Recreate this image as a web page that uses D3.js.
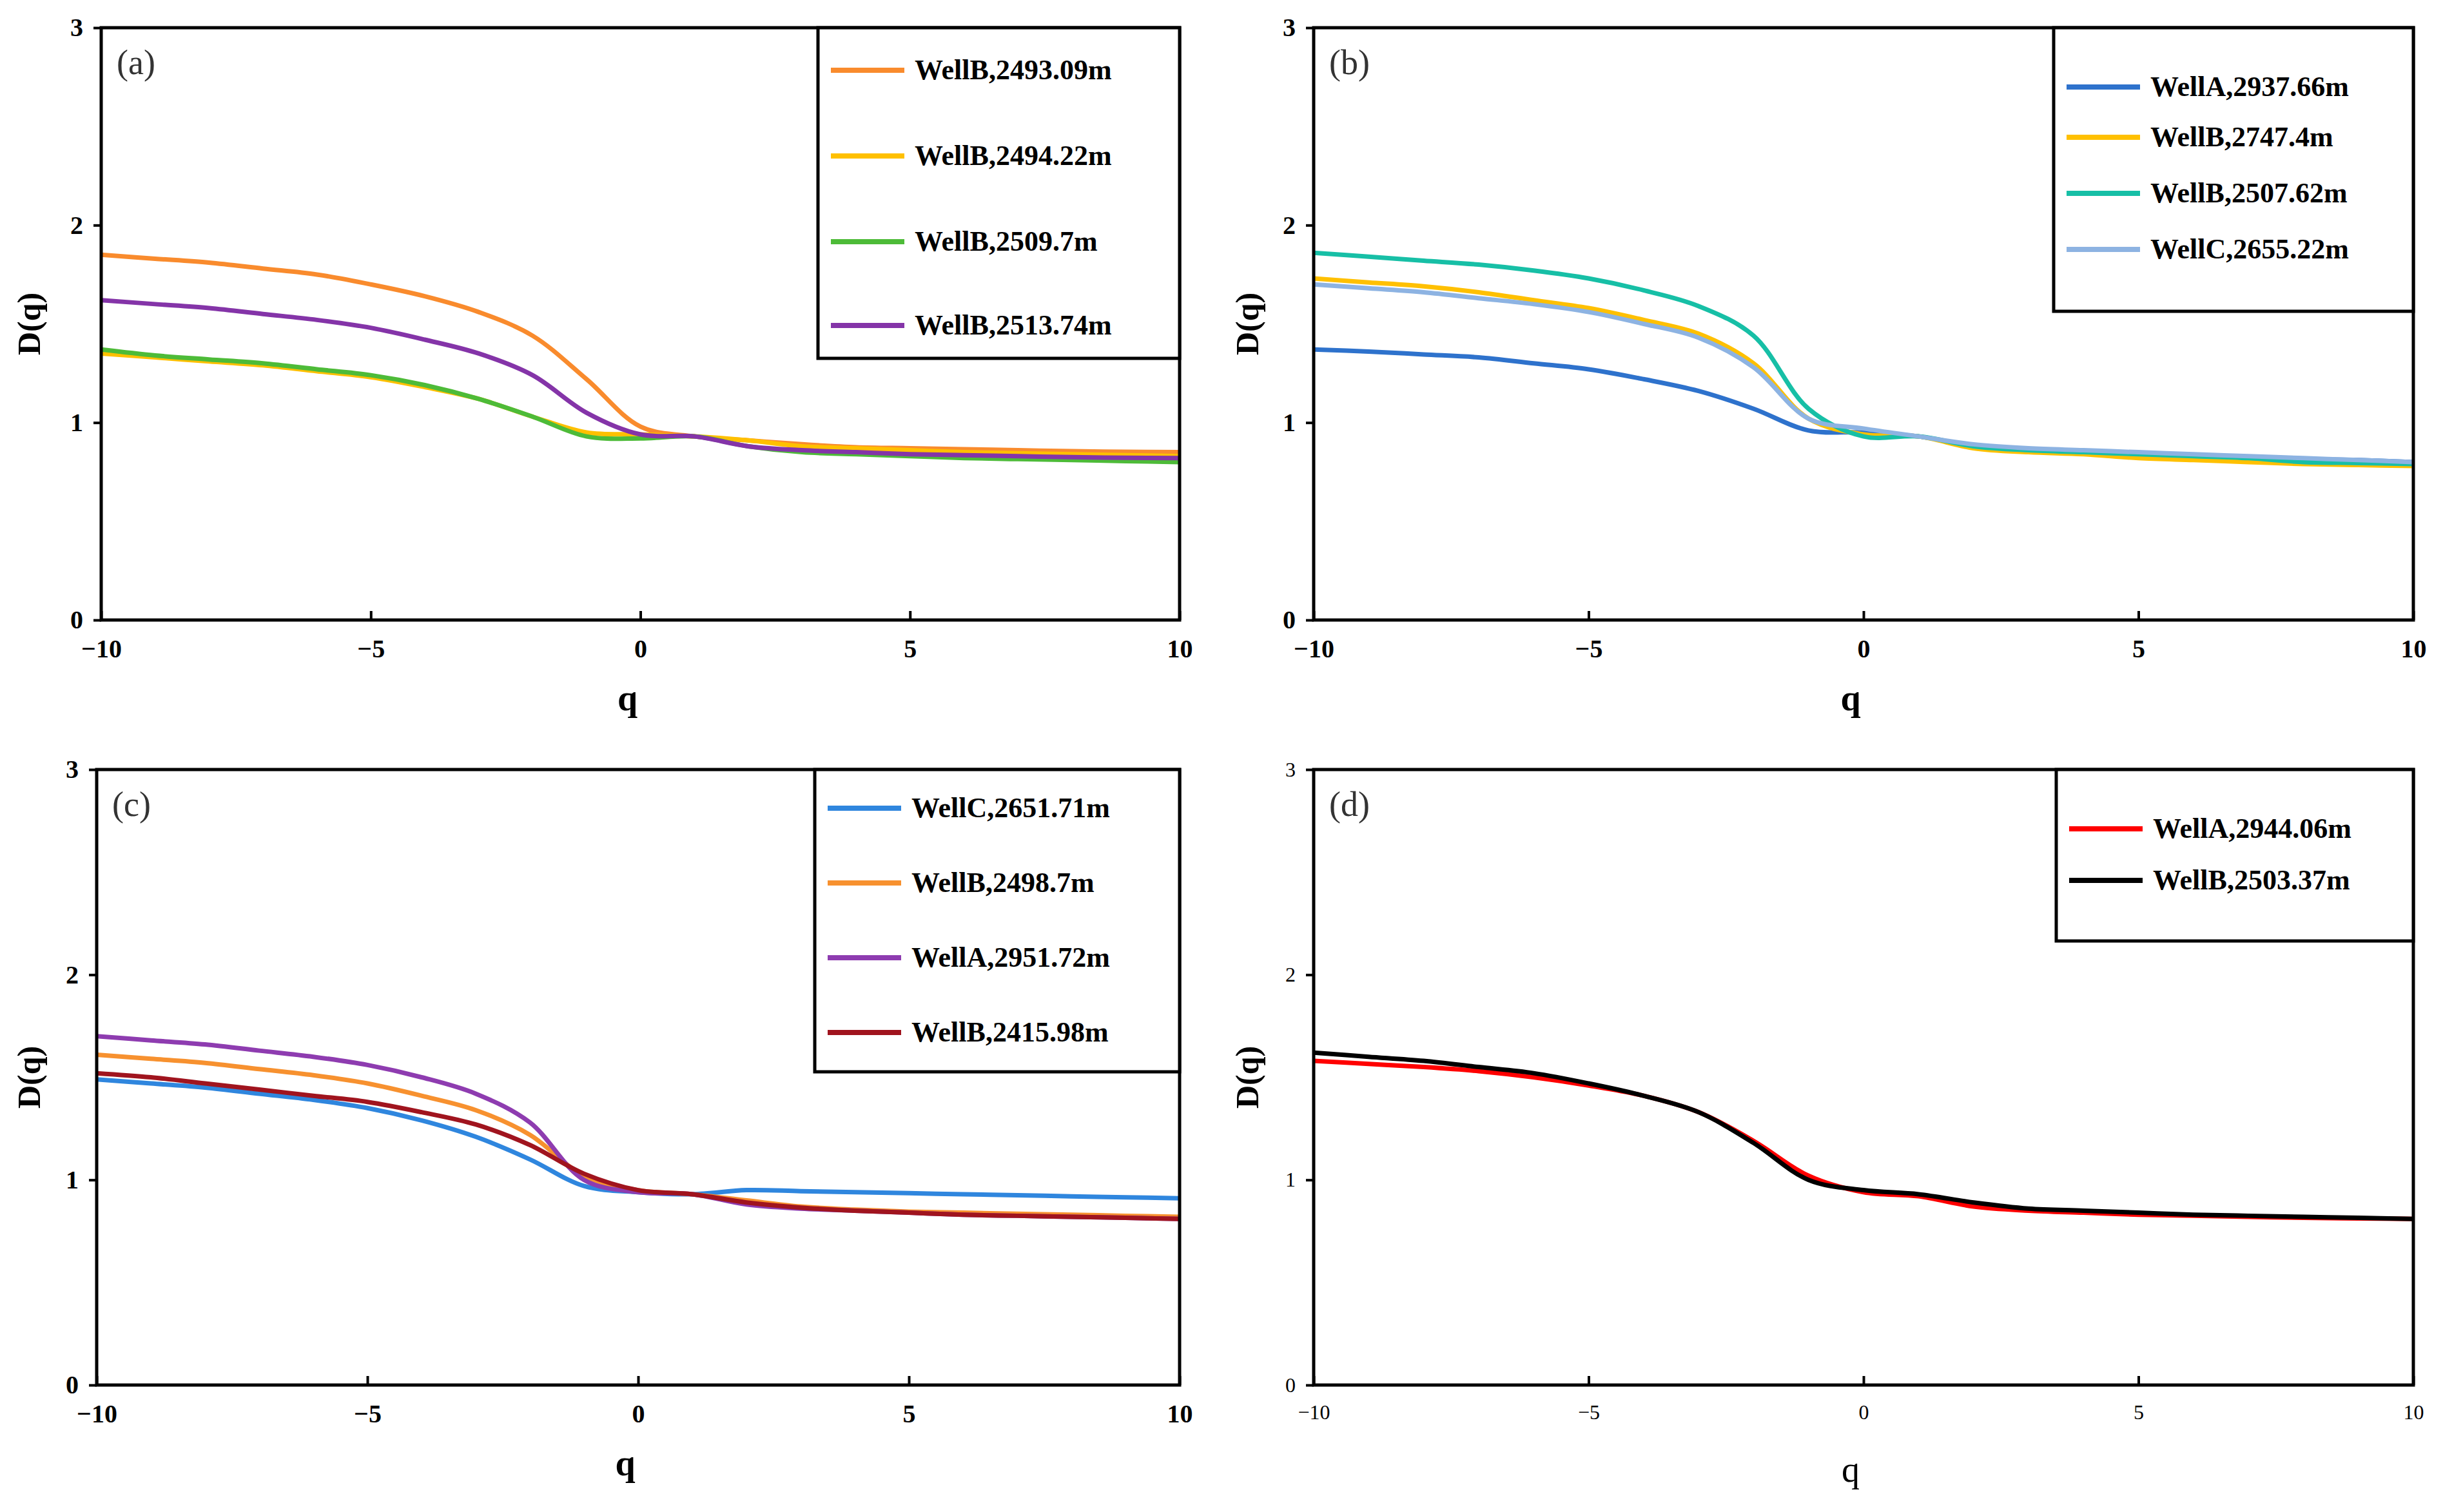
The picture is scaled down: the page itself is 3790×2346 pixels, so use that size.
<!DOCTYPE html>
<html><head><meta charset="utf-8">
<script src="https://cdn.jsdelivr.net/npm/d3@7"></script>
<style>body{margin:0;background:#fff}text{font-family:"Liberation Serif","Times New Roman",serif}</style>
</head><body>
<script>
const W = 3790, H = 2346;
const qs = d3.range(-10, 11);

// panel (a)
const aNames = ["WellB,2493.09m", "WellB,2494.22m", "WellB,2509.7m", "WellB,2513.74m"];
const aColors = ["#F98B2D", "#FFC000", "#4DBB38", "#8434A8"];
const aVals = [
  [1.85,1.83,1.81,1.78,1.75,1.70,1.64,1.56,1.44,1.22,0.98,0.93,0.91,0.89,0.875,0.87,0.865,0.86,0.855,0.852,0.85],
  [1.35,1.33,1.31,1.29,1.26,1.23,1.18,1.12,1.03,0.95,0.94,0.93,0.91,0.88,0.87,0.86,0.85,0.845,0.84,0.835,0.83],
  [1.37,1.34,1.32,1.30,1.27,1.24,1.19,1.12,1.03,0.93,0.92,0.93,0.88,0.85,0.84,0.83,0.82,0.815,0.81,0.805,0.80],
  [1.62,1.60,1.58,1.55,1.52,1.48,1.42,1.35,1.24,1.05,0.94,0.93,0.88,0.86,0.85,0.84,0.835,0.83,0.825,0.822,0.82]
];
// panel (b)
const bNames = ["WellA,2937.66m", "WellB,2747.4m", "WellB,2507.62m", "WellC,2655.22m"];
const bColors = ["#2E72CC", "#FFC000", "#17BFA6", "#8DB3E2"];
const bVals = [
  [1.37,1.36,1.345,1.33,1.30,1.27,1.22,1.16,1.07,0.96,0.95,0.93,0.88,0.86,0.85,0.84,0.83,0.82,0.815,0.81,0.80],
  [1.73,1.71,1.69,1.66,1.62,1.58,1.52,1.45,1.30,1.02,0.94,0.93,0.87,0.85,0.84,0.82,0.81,0.80,0.79,0.785,0.78],
  [1.86,1.84,1.82,1.80,1.77,1.73,1.67,1.59,1.44,1.07,0.93,0.93,0.88,0.86,0.85,0.84,0.83,0.82,0.80,0.795,0.79],
  [1.70,1.68,1.66,1.63,1.60,1.56,1.50,1.43,1.28,1.02,0.97,0.93,0.89,0.87,0.86,0.85,0.84,0.83,0.82,0.81,0.80]
];
// panel (c)
const cNames = ["WellC,2651.71m", "WellB,2498.7m", "WellA,2951.72m", "WellB,2415.98m"];
const cColors = ["#2F86DE", "#F7912F", "#8E3CB0", "#A0141E"];
const cVals = [
  [1.49,1.47,1.45,1.42,1.39,1.35,1.29,1.21,1.10,0.97,0.94,0.93,0.95,0.945,0.94,0.935,0.93,0.925,0.92,0.915,0.91],
  [1.61,1.59,1.57,1.54,1.51,1.47,1.41,1.34,1.22,1.02,0.95,0.93,0.90,0.87,0.855,0.845,0.84,0.835,0.83,0.825,0.82],
  [1.70,1.68,1.66,1.63,1.60,1.56,1.50,1.42,1.28,1.00,0.94,0.93,0.88,0.86,0.85,0.84,0.83,0.825,0.82,0.815,0.81],
  [1.52,1.50,1.47,1.44,1.41,1.38,1.33,1.27,1.17,1.03,0.95,0.93,0.89,0.865,0.85,0.84,0.83,0.825,0.82,0.815,0.81]
];
// panel (d)
const dNames = ["WellA,2944.06m", "WellB,2503.37m"];
const dColors = ["#FF0000", "#000000"];
const dVals = [
  [1.58,1.565,1.55,1.53,1.50,1.46,1.41,1.33,1.19,1.02,0.94,0.92,0.87,0.85,0.84,0.83,0.825,0.82,0.815,0.812,0.81],
  [1.62,1.60,1.58,1.55,1.52,1.47,1.41,1.33,1.18,1.00,0.95,0.93,0.89,0.86,0.85,0.84,0.83,0.825,0.82,0.815,0.81]
];
const xTicks = [-10, -5, 0, 5, 10];
const yTicks = [0, 1, 2, 3];

const svg = d3.select("body").append("svg").attr("width", W).attr("height", H);

const panels = [
  {tag:"(a)", names:aNames, colors:aColors, vals:aVals, x0:157, x1:1830, y0:43, y1:962, lg:{x:1269,y:43,w:561,h:513,ys:[109,242,375,505]}, bold:true, ylx:44},
  {tag:"(b)", names:bNames, colors:bColors, vals:bVals, x0:2038, x1:3744, y0:43, y1:962, lg:{x:3186,y:43,w:558,h:440,ys:[135,213,300,387]}, bold:true, ylx:1934},
  {tag:"(c)", names:cNames, colors:cColors, vals:cVals, x0:150, x1:1830, y0:1194, y1:2149, lg:{x:1264,y:1194,w:566,h:469,ys:[1254,1370,1486,1602]}, bold:true, ylx:44},
  {tag:"(d)", names:dNames, colors:dColors, vals:dVals, x0:2038, x1:3744, y0:1194, y1:2149, lg:{x:3190,y:1194,w:554,h:266,ys:[1286,1366]}, bold:false, ylx:1934}
];

panels.forEach(p => {
  const g = svg.append("g");
  const x = d3.scaleLinear().domain([-10, 10]).range([p.x0, p.x1]);
  const y = d3.scaleLinear().domain([0, 3]).range([p.y1, p.y0]);
  const fw = p.bold ? "bold" : "normal";
  const tickSize = p.bold ? 40 : 32;

  p.vals.forEach((v, i) => {
    const line = d3.line().x((d, j) => x(qs[j])).y(d => y(d)).curve(d3.curveCatmullRom);
    g.append("path").attr("d", line(v)).attr("fill", "none")
      .attr("stroke", p.colors[i]).attr("stroke-width", 7);
  });

  g.append("rect").attr("x", p.x0).attr("y", p.y0).attr("width", p.x1 - p.x0).attr("height", p.y1 - p.y0)
    .attr("fill", "none").attr("stroke", "#000").attr("stroke-width", 5);

  const xa = g.append("g").attr("transform", `translate(0,${p.y1})`)
    .call(d3.axisBottom(x).tickValues(xTicks).tickSize(-14).tickPadding(30).tickFormat(d3.format("d")));
  const ya = g.append("g").attr("transform", `translate(${p.x0},0)`)
    .call(d3.axisLeft(y).tickValues(yTicks).tickSize(12).tickPadding(16).tickFormat(d3.format("d")));
  [xa, ya].forEach(a => {
    a.select(".domain").remove();
    a.selectAll("line").attr("stroke", "#000").attr("stroke-width", 4);
    a.selectAll("text").attr("font-size", tickSize).attr("font-weight", fw)
      .attr("font-family", "Liberation Serif").attr("fill", "#000");
  });

  g.append("text").attr("x", (p.x0 + p.x1) / 2 - 20).attr("y", p.y1 + (p.bold ? 140 : 150))
    .attr("text-anchor", "middle").attr("font-size", 56).attr("font-weight", fw).text("q");
  g.append("text").attr("transform", `translate(${p.ylx + 18},${(p.y0 + p.y1) / 2}) rotate(-90)`)
    .attr("text-anchor", "middle").attr("font-size", 50).attr("font-weight", "bold").text("D(q)");
  g.append("text").attr("x", p.x0 + 24).attr("y", p.y0 + 72).attr("font-size", 54).attr("fill", "#333").text(p.tag);

  const lg = p.lg;
  g.append("rect").attr("x", lg.x).attr("y", lg.y).attr("width", lg.w).attr("height", lg.h)
    .attr("fill", "#fff").attr("stroke", "#000").attr("stroke-width", 5);
  p.names.forEach((n, i) => {
    g.append("line").attr("x1", lg.x + 20).attr("x2", lg.x + 134).attr("y1", lg.ys[i]).attr("y2", lg.ys[i])
      .attr("stroke", p.colors[i]).attr("stroke-width", 8);
    g.append("text").attr("x", lg.x + 150).attr("y", lg.ys[i] + 14).attr("font-size", 44)
      .attr("font-weight", "bold").text(n);
  });
});
</script>
</body></html>
